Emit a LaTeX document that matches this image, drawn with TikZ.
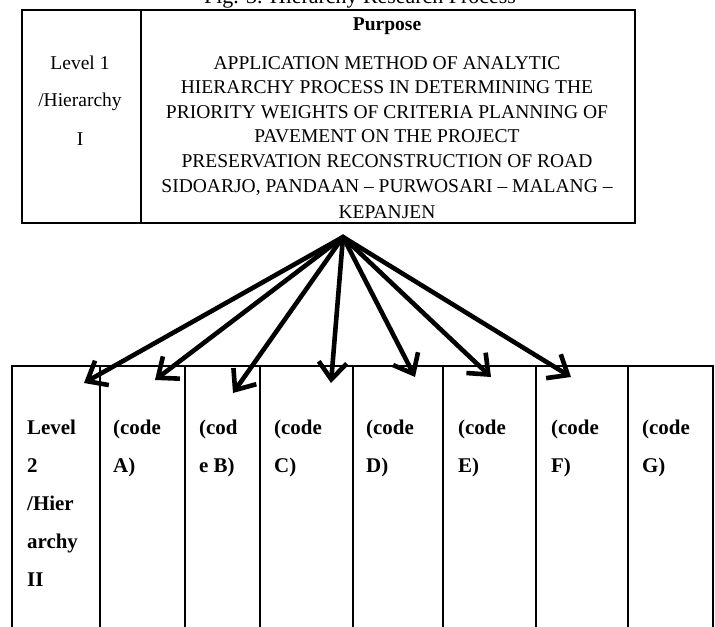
\documentclass[tikz,border=0pt]{standalone}
\usepackage{fontspec}
\setmainfont{Liberation Serif}
\usetikzlibrary{arrows.meta}
\begin{document}
\begin{tikzpicture}[x=1bp,y=-1bp,
  boxline/.style={draw, line width=2.4bp, inner sep=0pt, anchor=north west},
  celltop/.style={draw, line width=2bp, inner sep=0pt, anchor=north west, minimum height=300bp},
  toptxt/.style={inner sep=0pt, anchor=base, font=\fontsize{19.6}{22}\selectfont},
  boldtop/.style={inner sep=0pt, anchor=base, font=\fontsize{19.6}{22}\selectfont\bfseries},
  celltxt/.style={inner sep=0pt, anchor=base west, font=\fontsize{21}{24}\selectfont\bfseries},
  arr/.style={line width=4.6bp, line join=round, line cap=round, -{Straight Barb[length=17bp,width=28bp]}}]
\useasboundingbox (0,0) rectangle (715,627);
\clip (0,0) rectangle (715,627);
% title (cut off at the top, as in the source)
\node[inner sep=0pt, anchor=base, font=\fontsize{22}{24}\selectfont] (title) at (360,4) {Fig. 3. Hierarchy Research Process};
% top box
\node[boxline, minimum width=613bp, minimum height=213bp] (purposebox) at (21,9) {};
\node[boxline, minimum width=119bp, minimum height=213bp] (levelonebox) at (21,9) {};
\node[boldtop] (purpose) at (387,31) {Purpose};
\node[toptxt] (l1) at (387,70) {APPLICATION METHOD OF ANALYTIC};
\node[toptxt] (l2) at (387,94) {HIERARCHY PROCESS IN DETERMINING THE};
\node[toptxt] (l3) at (387,119) {PRIORITY WEIGHTS OF CRITERIA PLANNING OF};
\node[toptxt] (l4) at (387,143) {PAVEMENT ON THE PROJECT};
\node[toptxt] (l5) at (387,168) {PRESERVATION RECONSTRUCTION OF ROAD};
\node[toptxt] (l6) at (387,193) {SIDOARJO, PANDAAN -- PURWOSARI -- MALANG --};
\node[toptxt] (l7) at (387,218) {KEPANJEN};
\node[toptxt] (lv1a) at (80,70) {Level 1};
\node[toptxt] (lv1b) at (80,107) {/Hierarchy};
\node[toptxt] (lv1c) at (80,146) {I};
% bottom table cells (open at the bottom of the picture)
\node[celltop, minimum width=88bp] (c0) at (11,365) {};
\node[celltop, minimum width=85bp] (c1) at (99,365) {};
\node[celltop, minimum width=75bp] (c2) at (184,365) {};
\node[celltop, minimum width=93bp] (c3) at (259,365) {};
\node[celltop, minimum width=90bp] (c4) at (352,365) {};
\node[celltop, minimum width=93bp] (c5) at (442,365) {};
\node[celltop, minimum width=92bp] (c6) at (535,365) {};
\node[celltop, minimum width=85bp] (c7) at (627,365) {};
% cell texts
\node[celltxt] (t0a) at (27,434) {Level};
\node[celltxt] (t0b) at (27,472) {2};
\node[celltxt] (t0c) at (27,510) {/Hier};
\node[celltxt] (t0d) at (27,548) {archy};
\node[celltxt] (t0e) at (27,586) {II};
\node[celltxt] (t1a) at (113,434) {(code};
\node[celltxt] (t1b) at (113,472) {A)};
\node[celltxt] (t2a) at (199,434) {(cod};
\node[celltxt] (t2b) at (199,472) {e B)};
\node[celltxt] (t3a) at (274,434) {(code};
\node[celltxt] (t3b) at (274,472) {C)};
\node[celltxt] (t4a) at (366,434) {(code};
\node[celltxt] (t4b) at (366,472) {D)};
\node[celltxt] (t5a) at (458,434) {(code};
\node[celltxt] (t5b) at (458,472) {E)};
\node[celltxt] (t6a) at (551,434) {(code};
\node[celltxt] (t6b) at (551,472) {F)};
\node[celltxt] (t7a) at (642,434) {(code};
\node[celltxt] (t7b) at (642,472) {G)};
% arrows
\coordinate (apex) at (343,237);
\coordinate (e0) at (84,383);
\coordinate (e1) at (155,380);
\coordinate (e2) at (233,393);
\coordinate (e3) at (331,383);
\coordinate (e4) at (415,377);
\coordinate (e5) at (491,377);
\coordinate (e6) at (571,377);
\foreach \e in {e0,e1,e2,e3,e4,e5,e6} \draw[arr] (apex) -- (\e);
\end{tikzpicture}
\end{document}
